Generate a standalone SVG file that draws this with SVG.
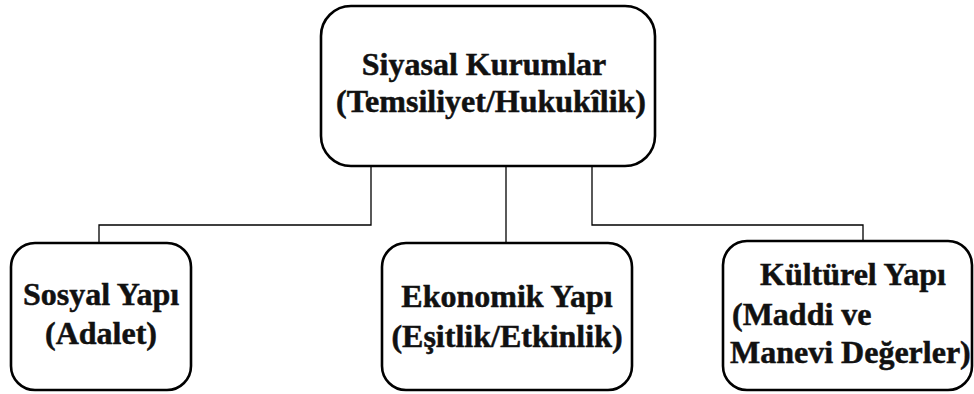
<svg xmlns="http://www.w3.org/2000/svg" width="974" height="394" viewBox="0 0 974 394">
<style>
.box{fill:#fff;stroke:#000;stroke-width:2.6}
.t{font-family:"Liberation Serif","Times New Roman",serif;font-weight:bold;font-size:32px;fill:#111;stroke:#111;stroke-width:0.5}
.c{fill:none;stroke:#000;stroke-width:1.3}
</style>
<rect width="974" height="394" fill="#fff"/>
<g id="connectors">
<polyline class="c" points="371,166 371,225 99,225 99,243"/>
<line class="c" x1="506" y1="166" x2="506" y2="243"/>
<polyline class="c" points="592,166 592,225 863,225 863,241"/>
</g>
<g id="node-siyasal">
<rect class="box" x="321" y="6" width="334" height="160" rx="30"/>
<text class="t" x="484" y="75" text-anchor="middle">Siyasal Kurumlar</text>
<text class="t" x="491" y="112" text-anchor="middle">(Temsiliyet/Hukukîlik)</text>
</g>
<g id="node-sosyal">
<rect class="box" x="11" y="243" width="180" height="147" rx="24"/>
<text class="t" x="101" y="305" text-anchor="middle">Sosyal Yapı</text>
<text class="t" x="101" y="344" text-anchor="middle">(Adalet)</text>
</g>
<g id="node-ekonomik">
<rect class="box" x="382" y="243" width="250" height="147" rx="24"/>
<text class="t" x="507" y="307" text-anchor="middle">Ekonomik Yapı</text>
<text class="t" x="507" y="347" text-anchor="middle">(Eşitlik/Etkinlik)</text>
</g>
<g id="node-kulturel">
<rect class="box" x="723" y="241" width="249" height="149" rx="24"/>
<text class="t" x="760" y="285">Kültürel Yapı</text>
<text class="t" x="732" y="325">(Maddi ve</text>
<text class="t" x="730" y="363">Manevi Değerler)</text>
</g>
</svg>
